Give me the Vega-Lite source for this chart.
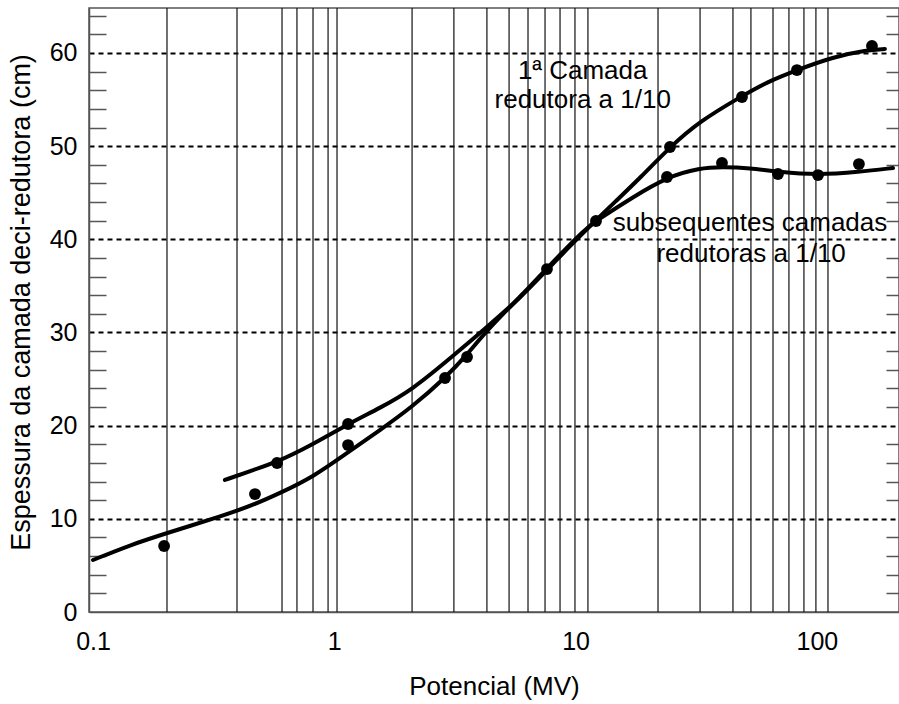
{
  "$schema": "https://vega.github.io/schema/vega-lite/v6.json",
  "width": 810,
  "height": 604,
  "autosize": {"type": "none"},
  "padding": {"left": 89, "top": 8, "right": 0, "bottom": 92},
  "background": "white",
  "config": {
    "font": "Liberation Sans",
    "view": {"stroke": "#555", "strokeWidth": 1.5}
  },
  "datasets": {
    "grid": [
      {"x": 0.2025}, {"x": 0.395}, {"x": 0.607}, {"x": 0.70}, {"x": 0.816}, {"x": 0.942}, {"x": 1.026},
      {"x": 2.10}, {"x": 3.13}, {"x": 4.29}, {"x": 5.30}, {"x": 6.35}, {"x": 7.47}, {"x": 8.62}, {"x": 9.94}, {"x": 11.25},
      {"x": 21.96}, {"x": 32.8}, {"x": 44.9}, {"x": 53.3}, {"x": 65.8}, {"x": 76.6}, {"x": 88.4}, {"x": 99.1}, {"x": 111.2}
    ],
    "curves": [
      {"s": "A", "x": 0.352, "y": 14.17},
      {"s": "A", "x": 0.447, "y": 15.13},
      {"s": "A", "x": 0.579, "y": 16.1},
      {"s": "A", "x": 0.793, "y": 17.82},
      {"s": "A", "x": 1.14, "y": 20.18},
      {"s": "A", "x": 1.547, "y": 21.9},
      {"s": "A", "x": 2.099, "y": 23.83},
      {"s": "A", "x": 3.104, "y": 27.48},
      {"s": "A", "x": 4.294, "y": 30.59},
      {"s": "A", "x": 5.884, "y": 33.7},
      {"s": "A", "x": 7.61, "y": 36.71},
      {"s": "A", "x": 9.48, "y": 39.28},
      {"s": "A", "x": 12.15, "y": 42.07},
      {"s": "A", "x": 14.85, "y": 44.22},
      {"s": "A", "x": 18.49, "y": 46.58},
      {"s": "A", "x": 24.61, "y": 49.91},
      {"s": "A", "x": 32.78, "y": 52.7},
      {"s": "A", "x": 48.94, "y": 55.38},
      {"s": "A", "x": 62.13, "y": 56.89},
      {"s": "A", "x": 82.7, "y": 58.17},
      {"s": "A", "x": 116.6, "y": 59.57},
      {"s": "A", "x": 161.3, "y": 60.32},
      {"s": "A", "x": 191.5, "y": 60.43},
      {"s": "B", "x": 0.1, "y": 5.58},
      {"s": "B", "x": 0.1423, "y": 7.19},
      {"s": "B", "x": 0.2026, "y": 8.48},
      {"s": "B", "x": 0.3524, "y": 10.41},
      {"s": "B", "x": 0.4603, "y": 11.48},
      {"s": "B", "x": 0.5957, "y": 12.77},
      {"s": "B", "x": 0.816, "y": 14.49},
      {"s": "B", "x": 1.129, "y": 17.07},
      {"s": "B", "x": 1.547, "y": 19.53},
      {"s": "B", "x": 2.099, "y": 22.0},
      {"s": "B", "x": 2.876, "y": 25.12},
      {"s": "B", "x": 3.548, "y": 27.6},
      {"s": "B", "x": 4.294, "y": 30.27},
      {"s": "B", "x": 6.289, "y": 34.56},
      {"s": "B", "x": 7.61, "y": 36.92},
      {"s": "B", "x": 11.15, "y": 41.32},
      {"s": "B", "x": 12.15, "y": 41.97},
      {"s": "B", "x": 17.29, "y": 44.54},
      {"s": "B", "x": 23.92, "y": 46.69},
      {"s": "B", "x": 32.78, "y": 47.66},
      {"s": "B", "x": 40.43, "y": 47.76},
      {"s": "B", "x": 52.8, "y": 47.66},
      {"s": "B", "x": 69.0, "y": 47.23},
      {"s": "B", "x": 101.1, "y": 46.9},
      {"s": "B", "x": 149.4, "y": 47.23},
      {"s": "B", "x": 206.8, "y": 47.66}
    ],
    "points": [
      {"x": 0.197, "y": 7.08},
      {"x": 0.469, "y": 12.66},
      {"x": 0.579, "y": 15.99},
      {"x": 1.14, "y": 20.18},
      {"x": 1.14, "y": 17.92},
      {"x": 2.876, "y": 25.12},
      {"x": 3.548, "y": 27.37},
      {"x": 7.61, "y": 36.81},
      {"x": 12.15, "y": 41.97},
      {"x": 24.61, "y": 49.91},
      {"x": 23.92, "y": 46.69},
      {"x": 40.43, "y": 48.19},
      {"x": 48.94, "y": 55.28},
      {"x": 69.0, "y": 47.01},
      {"x": 82.7, "y": 58.17},
      {"x": 101.1, "y": 46.9},
      {"x": 149.4, "y": 48.08},
      {"x": 169.2, "y": 60.75}
    ],
    "labels": [
      {"x": 10.7, "y": 58.07, "t": "1ª Camada"},
      {"x": 10.7, "y": 54.95, "t": "redutora a 1/10"},
      {"x": 52.8, "y": 41.75, "t": "subsequentes camadas"},
      {"x": 53.4, "y": 38.42, "t": "redutoras a 1/10"}
    ]
  },
  "encoding": {
    "x": {
      "field": "x", "type": "quantitative",
      "scale": {"type": "log", "domain": [0.0962, 219], "nice": false},
      "axis": {
        "values": [0.1, 1, 10, 100],
        "format": "~g",
        "grid": false,
        "ticks": false,
        "tickSize": 0,
        "domainColor": "#555",
        "domainWidth": 1.5,
        "labelFont": "Liberation Sans",
        "labelFontSize": 25,
        "labelColor": "#000",
        "labelBaseline": "alphabetic",
        "labelPadding": 37,
        "labelFlush": false,
        "labelOverlap": false,
        "title": "Potencial (MV)",
        "titleFont": "Liberation Sans",
        "titleFontSize": 26,
        "titleFontWeight": "normal",
        "titleColor": "#000",
        "titleBaseline": "alphabetic",
        "titleX": 405,
        "titleY": 82
      }
    }
  },
  "resolve": {"axis": {"y": "independent"}},
  "layer": [
    {
      "data": {"name": "grid"},
      "mark": {"type": "rule", "color": "#111", "strokeWidth": 1.2}
    },
    {
      "data": {"name": "curves"},
      "mark": {"type": "line", "color": "#000", "strokeWidth": 4, "interpolate": "basis", "strokeCap": "round"},
      "encoding": {
        "y": {
          "field": "y", "type": "quantitative",
          "scale": {"domain": [0, 64.83], "nice": false, "zero": false},
          "axis": {
            "orient": "left",
            "values": [0, 2, 4, 6, 8, 10, 12, 14, 16, 18, 20, 22, 24, 26, 28, 30, 32, 34, 36, 38, 40, 42, 44, 46, 48, 50, 52, 54, 56, 58, 60, 62, 64],
            "labelExpr": "datum.value % 10 === 0 ? datum.label : ''",
            "tickSize": -17,
            "tickColor": "#555",
            "tickWidth": 1.5,
            "tickOpacity": {"condition": {"test": "datum.value % 10 === 0", "value": 0}, "value": 1},
            "grid": true,
            "gridColor": "#000",
            "gridWidth": 1.8,
            "gridDash": [5, 4],
            "gridOpacity": {"condition": {"test": "datum.value % 10 === 0 && datum.value > 0", "value": 1}, "value": 0},
            "domainColor": "#555",
            "domainWidth": 1.5,
            "labelFont": "Liberation Sans",
            "labelFontSize": 25,
            "labelColor": "#000",
            "labelPadding": 29,
            "labelFlush": false,
            "labelOverlap": false,
            "title": "Espessura da camada deci-redutora (cm)",
            "titleFont": "Liberation Sans",
            "titleFontSize": 27,
            "titleFontWeight": "normal",
            "titleColor": "#000",
            "titleAngle": -90,
            "titleBaseline": "alphabetic",
            "titleX": -60,
            "titleY": 294
          }
        },
        "detail": {"field": "s", "type": "nominal"}
      }
    },
    {
      "data": {"name": "points"},
      "mark": {"type": "circle", "color": "#000", "opacity": 1, "size": 140},
      "encoding": {
        "y": {
          "field": "y", "type": "quantitative",
          "scale": {"domain": [0, 64.83], "nice": false, "zero": false},
          "axis": {
            "orient": "right",
            "values": [2, 4, 6, 8, 12, 14, 16, 18, 22, 24, 26, 28, 32, 34, 36, 38, 42, 44, 46, 48, 52, 54, 56, 58, 62, 64],
            "labels": false,
            "domain": false,
            "grid": false,
            "tickSize": -13,
            "tickColor": "#555",
            "tickWidth": 1.5,
            "title": null
          }
        }
      }
    },
    {
      "data": {"name": "labels"},
      "mark": {"type": "text", "font": "Liberation Sans", "fontSize": 26, "color": "#000", "align": "center", "baseline": "middle"},
      "encoding": {
        "y": {"field": "y", "type": "quantitative", "scale": {"domain": [0, 64.83], "nice": false, "zero": false}, "axis": null},
        "text": {"field": "t", "type": "nominal"}
      }
    }
  ]
}
